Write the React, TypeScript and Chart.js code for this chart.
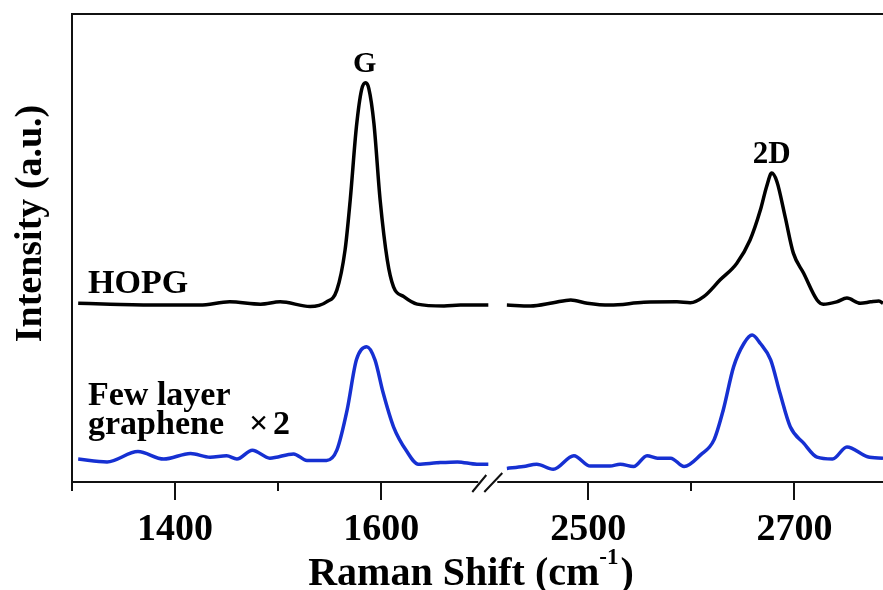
import { useEffect, useRef } from 'react';
import { Chart, registerables } from 'chart.js';

Chart.register(...registerables);

// ---- data (Raman shift in cm-1, intensity in a.u.) ----
const hopgLeftX = [1306, 1337, 1385, 1424, 1453, 1483, 1502, 1531, 1547, 1557, 1565, 1570, 1576, 1581, 1585, 1588, 1593, 1599, 1606, 1612, 1622, 1635, 1661, 1677, 1696, 1704];
const hopgLeftY = [38.2, 38.0, 37.8, 37.8, 38.5, 38.0, 38.5, 37.5, 38.5, 41.0, 49.6, 60.3, 75.9, 83.8, 85.3, 84.1, 76.6, 60.3, 47.4, 41.7, 39.6, 38.0, 37.6, 37.8, 37.8, 37.8];
const hopgRightX = [2421, 2444, 2466, 2483, 2499, 2521, 2554, 2586, 2599, 2612, 2628, 2644, 2657, 2667, 2673, 2678, 2683, 2691, 2699, 2709, 2722, 2728, 2741, 2751, 2764, 2774, 2782, 2786];
const hopgRightY = [37.8, 37.6, 38.3, 38.9, 38.2, 37.8, 38.4, 38.5, 38.3, 39.6, 43.2, 46.7, 51.7, 58.1, 63.1, 66.0, 64.2, 56.7, 48.9, 44.6, 38.9, 38.0, 38.5, 39.3, 38.2, 38.5, 38.7, 38.2];
const fewLeftX = [1306, 1334, 1364, 1389, 1415, 1434, 1450, 1460, 1475, 1492, 1515, 1528, 1547, 1557, 1567, 1576, 1586, 1594, 1602, 1612, 1625, 1636, 1654, 1674, 1693, 1704];
const fewLeftY = [4.9, 4.3, 6.5, 4.9, 6.1, 5.3, 5.6, 4.9, 6.8, 5.1, 6.0, 4.6, 4.6, 6.8, 15.4, 26.1, 28.9, 26.1, 19.0, 11.8, 6.5, 3.8, 4.1, 4.3, 3.8, 3.8];
const fewRightX = [2421, 2437, 2450, 2466, 2486, 2502, 2521, 2531, 2544, 2557, 2567, 2580, 2593, 2609, 2622, 2631, 2641, 2651, 2659, 2667, 2677, 2686, 2696, 2709, 2722, 2737, 2751, 2771, 2786];
const fewRightY = [2.9, 3.3, 3.8, 2.7, 5.6, 3.4, 3.4, 3.8, 3.3, 5.6, 5.1, 5.1, 3.3, 5.8, 9.0, 15.4, 24.6, 29.6, 31.4, 29.6, 26.1, 19.0, 11.8, 8.3, 5.3, 4.9, 7.5, 5.4, 5.1];

const tickValues = [1300, 1400, 1500, 1600, 2500, 2600, 2700];
const tickLabels = ['', '1400', '', '1600', '2500', '', '2700'];

const X_MIN = 1300;
const X_MAX = 2786;
const BREAK_OFFSET = 699; // cm-1 cut out by the axis break
const BREAK_AT = 1703; // axis position of the break marks
const GAP_AT = 1712;

const FONT = '"Liberation Serif", "Times New Roman", serif';

const toAxis = (v: number) => (v > 2000 ? v - BREAK_OFFSET : v);

function buildSeries(lx: number[], ly: number[], rx: number[], ry: number[]) {
  const pts: { x: number; y: number | null }[] = [];
  lx.forEach((x, i) => pts.push({ x: toAxis(x), y: ly[i] }));
  pts.push({ x: GAP_AT, y: null });
  rx.forEach((x, i) => pts.push({ x: toAxis(x), y: ry[i] }));
  return pts;
}

const decorPlugin = {
  id: 'decor',
  afterDraw(chart: any) {
    const { ctx, chartArea: a } = chart;
    const xs = chart.scales.x;
    const ys = chart.scales.y;
    ctx.save();
    ctx.strokeStyle = '#111';
    ctx.lineWidth = 2;
    // top frame line
    ctx.beginPath();
    ctx.moveTo(a.left - 1, a.top);
    ctx.lineTo(a.right, a.top);
    ctx.stroke();
    // tick marks
    tickValues.forEach((v, i) => {
      const px = Math.round(xs.getPixelForValue(toAxis(v)));
      const len = tickLabels[i] ? 18 : 9;
      ctx.beginPath();
      ctx.moveTo(px, a.bottom);
      ctx.lineTo(px, a.bottom + len);
      ctx.stroke();
    });
    // axis break
    const bx = xs.getPixelForValue(BREAK_AT);
    ctx.fillStyle = '#fff';
    ctx.fillRect(bx - 9, a.bottom - 3, 19, 6);
    ctx.beginPath();
    ctx.moveTo(bx - 15, a.bottom + 10);
    ctx.lineTo(bx - 1, a.bottom - 7);
    ctx.moveTo(bx - 3, a.bottom + 10);
    ctx.lineTo(bx + 15, a.bottom - 9);
    ctx.stroke();

    // texts
    ctx.fillStyle = '#000';
    ctx.textBaseline = 'alphabetic';
    ctx.textAlign = 'center';
    ctx.font = `bold 30px ${FONT}`;
    ctx.fillText('G', xs.getPixelForValue(1584), ys.getPixelForValue(85.3) - 11);
    ctx.font = `bold 31px ${FONT}`;
    ctx.fillText('2D', xs.getPixelForValue(toAxis(2678)), ys.getPixelForValue(66.0) - 10);

    ctx.textAlign = 'left';
    ctx.font = `bold 34px ${FONT}`;
    ctx.fillText('HOPG', 88, 293);
    ctx.fillText('Few layer', 88, 405);
    ctx.fillText('graphene', 88, 434);
    ctx.fillText('×', 249, 434);
    ctx.fillText('2', 273, 434);

    // y title
    ctx.save();
    ctx.translate(41, 223.5);
    ctx.rotate(-Math.PI / 2);
    ctx.textAlign = 'center';
    ctx.font = `bold 38px ${FONT}`;
    ctx.fillText('Intensity (a.u.)', 0, 0);
    ctx.restore();

    // x title with superscript
    ctx.textAlign = 'left';
    const p1 = 'Raman Shift (cm';
    const p2 = '-1';
    const p3 = ')';
    ctx.font = `bold 40px ${FONT}`;
    const w1 = ctx.measureText(p1).width;
    const w3 = ctx.measureText(p3).width;
    ctx.font = `bold 23px ${FONT}`;
    const w2 = ctx.measureText(p2).width;
    const total = w1 + w2 + 2 + w3;
    let sx = 471 - total / 2;
    ctx.font = `bold 40px ${FONT}`;
    ctx.fillText(p1, sx, 585);
    sx += w1;
    ctx.font = `bold 23px ${FONT}`;
    ctx.fillText(p2, sx, 564);
    sx += w2 + 2;
    ctx.font = `bold 40px ${FONT}`;
    ctx.fillText(p3, sx, 585);
    ctx.restore();
  },
};

export default function App() {
  const ref = useRef<HTMLCanvasElement | null>(null);

  useEffect(() => {
    if (!ref.current) return;
    const chart = new Chart(ref.current, {
      type: 'line',
      data: {
        datasets: [
          {
            label: 'HOPG',
            data: buildSeries(hopgLeftX, hopgLeftY, hopgRightX, hopgRightY),
            borderColor: '#000',
            borderWidth: 3.5,
            pointRadius: 0,
            tension: 0.4,
            cubicInterpolationMode: 'monotone',
            spanGaps: false,
          },
          {
            label: 'Few layer graphene ×2',
            data: buildSeries(fewLeftX, fewLeftY, fewRightX, fewRightY),
            borderColor: '#1630d2',
            borderWidth: 3.5,
            pointRadius: 0,
            tension: 0.4,
            cubicInterpolationMode: 'monotone',
            spanGaps: false,
          },
        ],
      },
      options: {
        responsive: false,
        animation: false,
        events: [],
        layout: { padding: { top: 14, right: 0, left: 0, bottom: 0 } },
        plugins: { legend: { display: false }, tooltip: { enabled: false } },
        scales: {
          x: {
            type: 'linear',
            min: X_MIN,
            max: toAxis(X_MAX),
            grid: { display: false },
            border: { display: true, width: 2, color: '#111' },
            afterBuildTicks: (scale: any) => {
              scale.ticks = tickValues.map((v) => ({ value: toAxis(v) }));
            },
            afterFit: (scale: any) => {
              scale.height = 108;
            },
            ticks: {
              autoSkip: false,
              maxRotation: 0,
              padding: 17,
              color: '#000',
              font: { family: FONT, size: 38, weight: 'bold' },
              callback: (_v: any, i: number) => tickLabels[i],
            },
          },
          y: {
            min: 0,
            max: 100,
            grid: { display: false },
            border: { display: true, width: 2, color: '#111' },
            ticks: { display: false },
            afterFit: (scale: any) => {
              scale.width = 72;
            },
          },
        },
      },
      plugins: [decorPlugin],
    } as any);
    return () => chart.destroy();
  }, []);

  return (
    <div style={{ position: 'fixed', left: 0, top: 0, width: 883, height: 590, background: '#fff' }}>
      <canvas ref={ref} width={883} height={590} style={{ display: 'block' }} />
    </div>
  );
}
